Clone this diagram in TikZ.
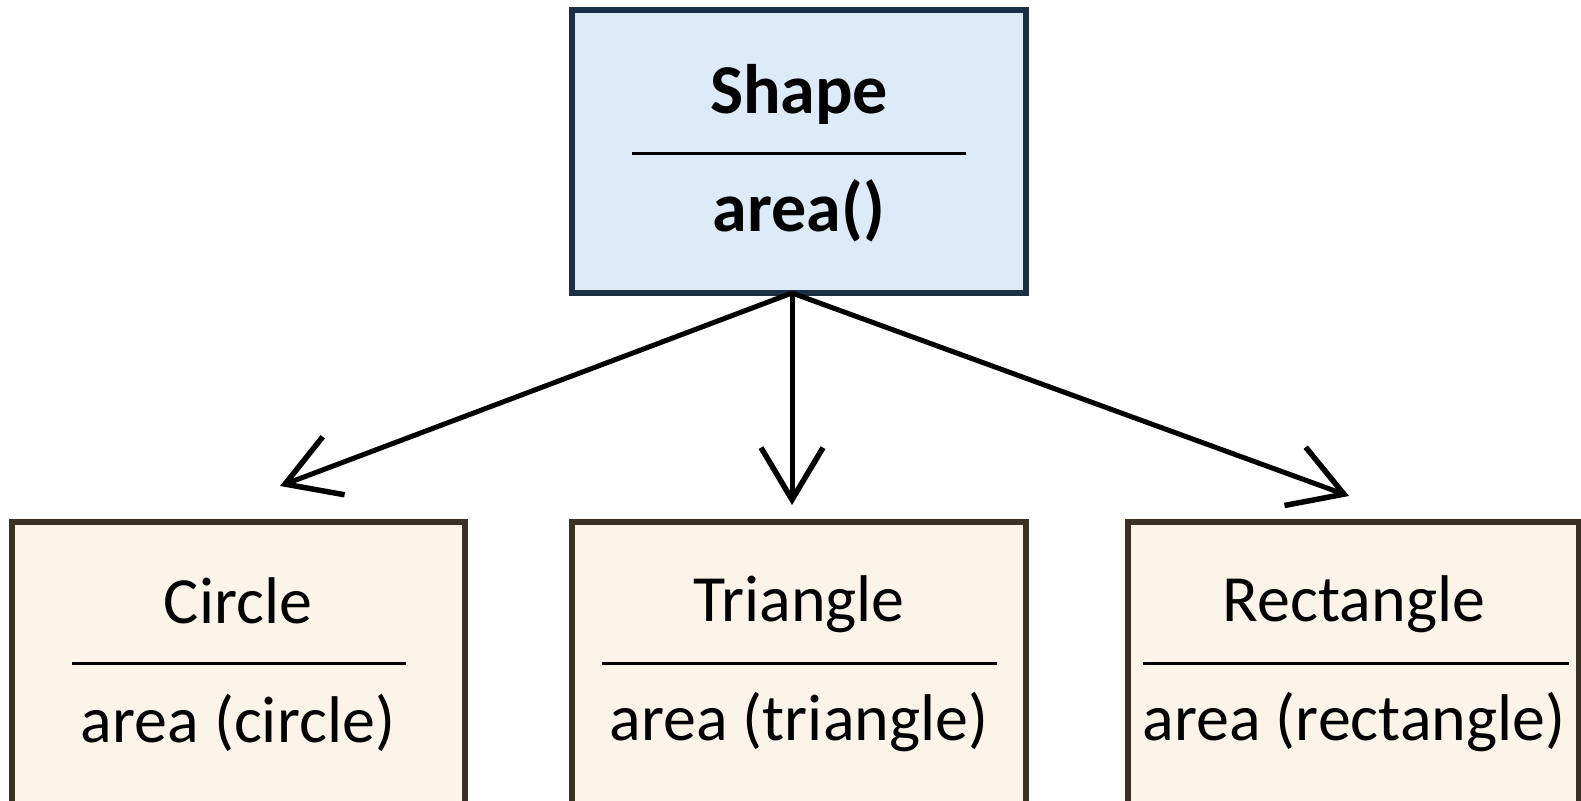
\documentclass[tikz,border=0pt]{standalone}
\usepackage{fontspec}
\setmainfont{Carlito}
\usetikzlibrary{arrows.meta}
\definecolor{topfill}{HTML}{DDEBF8}
\definecolor{topdraw}{HTML}{1B2F45}
\definecolor{subfill}{HTML}{FDF4E9}
\definecolor{subdraw}{HTML}{3B3024}
\tikzset{
  topbox/.style={draw=topdraw, fill=topfill, line width=5.5pt},
  subbox/.style={draw=subdraw, fill=subfill, line width=5.5pt},
  divider/.style={draw=black, line width=3pt},
  toptext/.style={anchor=base, inner sep=0pt, font=\fontsize{70}{80}\selectfont\bfseries},
  subtext/.style={anchor=base, inner sep=0pt, font=\fontsize{66}{76}\selectfont},
  inherit/.style={draw=black, line width=5pt, -{Straight Barb[length=52pt,width=62pt,line width=5.5pt]}}
}
\begin{document}
\begin{tikzpicture}[x=1pt,y=-1pt]
\useasboundingbox[fill=white] (0,0) rectangle (1581,800);
% parent class
\path[topbox] (572,10) rectangle (1026,293);
\node[coordinate] (shape) at (792,293) {};
\node[toptext] (shapename) at (799,113) {Shape};
\draw[divider] (632,153) -- (966,153);
\node[toptext] (shapeop) at (799,231) {area()};
% sub classes
\begin{scope}
\clip (0,0) rectangle (1581,800);
\path[subbox] (12,522) rectangle (465,840);
\path[subbox] (572,522) rectangle (1026,840);
\path[subbox] (1128,522) rectangle (1579,840);
\end{scope}
\node[coordinate] (circ) at (280,486) {};
\node[coordinate] (tri) at (792,505) {};
\node[coordinate] (rect) at (1349,496) {};
\node[subtext] (circname) at (238,623) {Circle};
\draw[divider] (72,663) -- (406,663);
\node[subtext] (circop) at (238,742) {area (circle)};
\node[subtext] (triname) at (799,621) {Triangle};
\draw[divider] (602,663) -- (997,663);
\node[subtext] (triop) at (799,740) {area (triangle)};
\node[subtext] (rectname) at (1354,621) {Rectangle};
\draw[divider] (1143,663) -- (1569,663);
\node[subtext] (rectop) at (1354,740) {area (rectangle)};
% inheritance arrows
\draw[inherit] (shape) -- (circ);
\draw[inherit] (shape) -- (tri);
\draw[inherit] (shape) -- (rect);
\end{tikzpicture}
\end{document}
